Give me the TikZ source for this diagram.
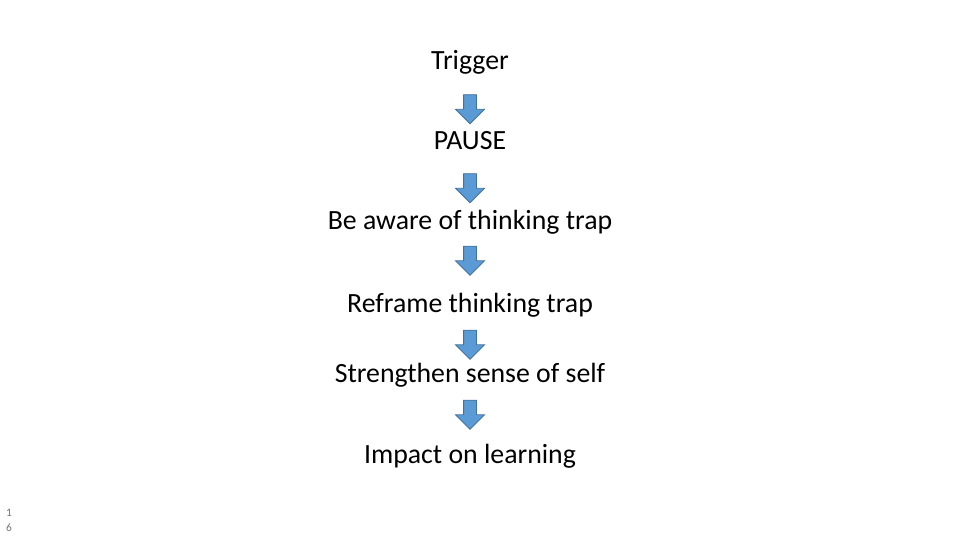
\documentclass[tikz,border=0pt]{standalone}
\usepackage{fontspec}
\setmainfont{Carlito}
\usepackage{tikz}
\usetikzlibrary{shapes.arrows}
\definecolor{arrowblue}{HTML}{5B9BD5}
\definecolor{arrowedge}{HTML}{41719C}

\begin{document}
\begin{tikzpicture}
		[x=1pt,y=-1pt,every node/.style={inner sep=0pt},
		step label/.style={anchor=base,font=\fontsize{27.8}{32}\selectfont},
		down arrow/.style={single arrow,draw=arrowedge,fill=arrowblue,line width=0.8pt,
			rotate=-90,minimum height=29pt,minimum width=28pt,inner sep=6pt,
			single arrow head extend=8pt,single arrow head indent=0pt},
		page num/.style={anchor=base west,text=black!55,font=\fontsize{11.4}{13}\selectfont}]
		\useasboundingbox (0,0) rectangle (960,540);
		\node[step label] (s1) at (470,70)  {Trigger};
		\node[step label] (s2) at (470,150) {PAUSE};
		\node[step label] (s3) at (470,229) {Be aware of thinking trap};
		\node[step label] (s4) at (470,312) {Reframe thinking trap};
		\node[step label] (s5) at (470,382) {Strengthen sense of self};
		\node[step label] (s6) at (470,463) {Impact on learning};
		
		\foreach \name/\y in {a1/106,a2/185,a3/257.5,a4/341.5,a5/411.5}
		\node[down arrow] (\name) at (470,\y) {};
		
		\node[page num] (p1) at (6,516) {1};
		\node[page num] (p2) at (6,531) {6};
		\end{tikzpicture}
\end{document}
